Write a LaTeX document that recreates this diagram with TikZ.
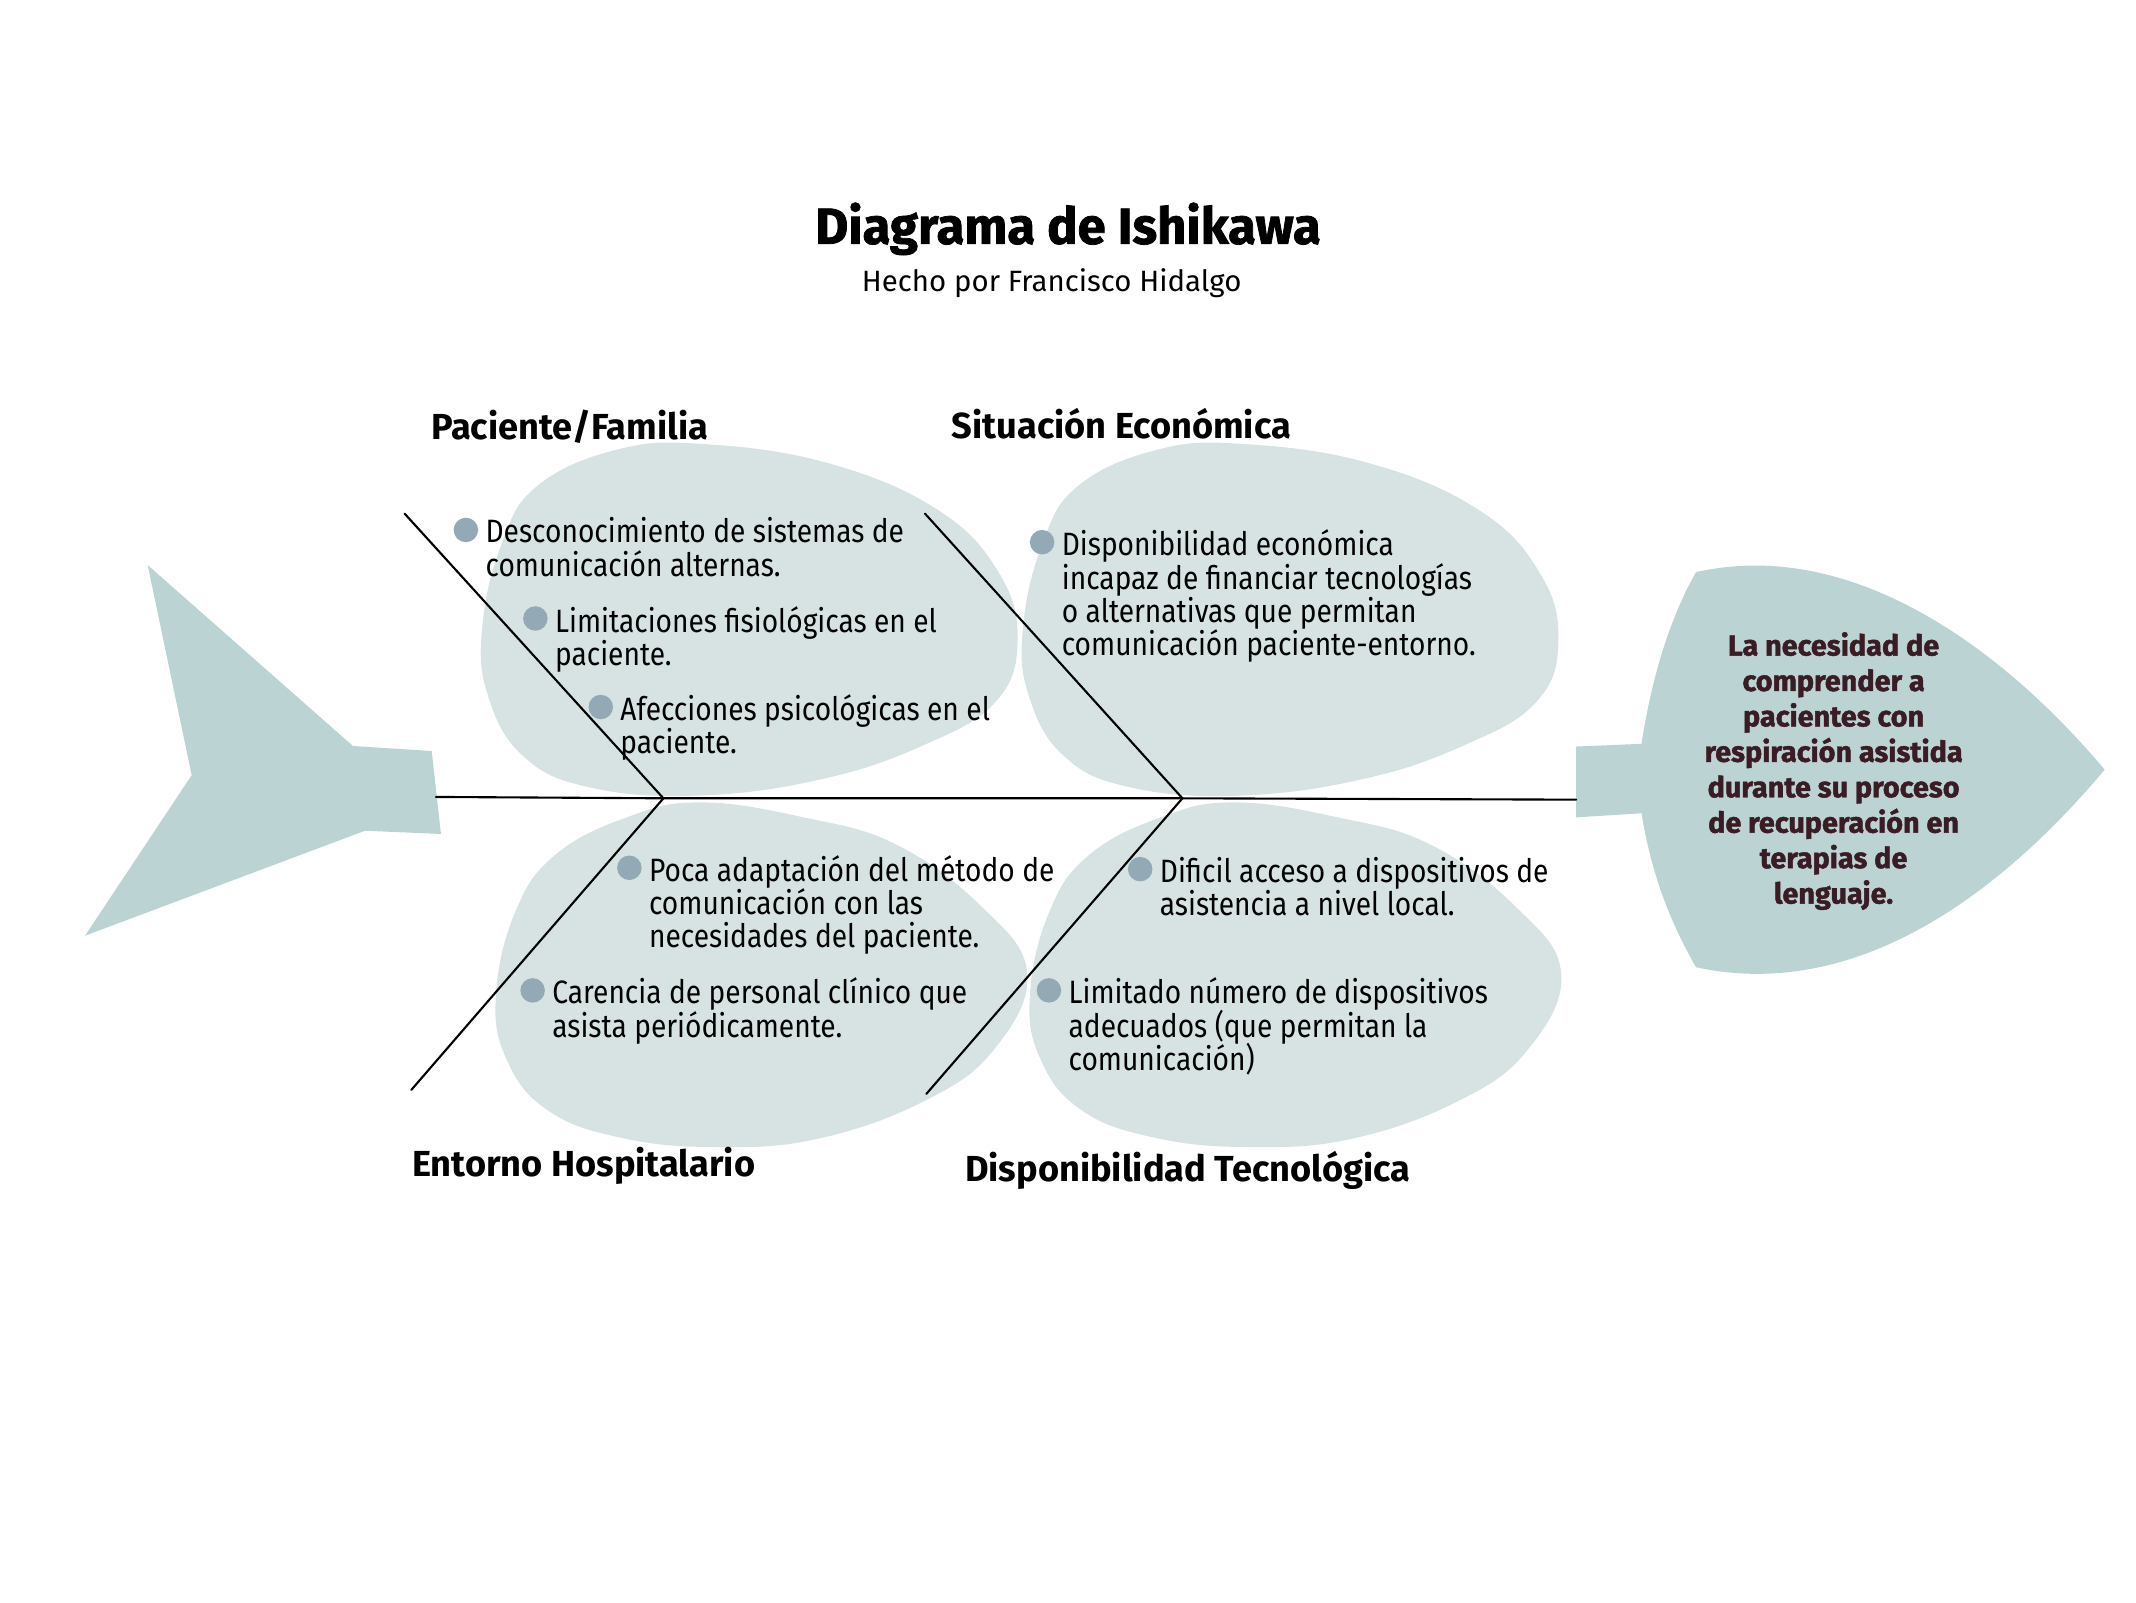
\documentclass[tikz,border=0pt]{standalone}
\usepackage{fontspec}
\setmainfont{Fira Sans}
\newfontfamily\ikbodyfont{Fira Sans}[FakeStretch=0.87]
\newfontfamily\ikheavyfont{Fira Sans}[BoldFeatures={FakeBold=1.5}]
\usetikzlibrary{positioning}
\setlength{\lineskiplimit}{-10pt}

\definecolor{ikFish}{HTML}{BCD3D4}
\definecolor{ikBlob}{HTML}{D7E3E2}
\definecolor{ikBall}{HTML}{93AAB6}
\definecolor{ikHead}{HTML}{3A1C25}

\def\IshikawaBoneLW{0.6pt}
\def\IshikawaBallSize{2.45mm}
\def\IshikawaTextDX{1.9mm}
\def\IshikawaTextDY{1.3mm}
\newcommand{\IshikawaStyles}{%
  \tikzset{
    ikfish/.style={fill=ikFish, draw=none},
    ikblob/.style={fill=ikBlob, draw=none},
    ikbone/.style={line width=\IshikawaBoneLW, line cap=round},
    ikball/.style={circle, fill=ikBall, minimum size=\IshikawaBallSize,
      inner sep=0pt},
    iktext/.style={anchor=north west, align=left, inner sep=0pt,
      font=\ikbodyfont\fontsize{9.2pt}{9.45pt}\selectfont},
    ikcat/.style={anchor=west, inner sep=0pt,
      font=\bfseries\fontsize{10.3pt}{12pt}\selectfont},
    iktitle/.style={inner sep=0pt,
      font=\ikheavyfont\bfseries\fontsize{14.45pt}{17pt}\selectfont},
    iksubtitle/.style={inner sep=0pt,
      font=\fontsize{8.36pt}{10pt}\selectfont},
    ikeffect/.style={align=center, inner sep=0pt, text=ikHead,
      font=\ikheavyfont\bfseries\fontsize{8.2pt}{10.08pt}\selectfont},
  }%
}

\begin{document}
\begin{tikzpicture}[x=0.13622mm, y=-0.13622mm]
    \IshikawaStyles
    \useasboundingbox (0,0) rectangle (1568,1176);

    % blobs behind the bones
    \foreach \dx in {-397,0}
      \fill[ikblob, xshift=\dx*0.13622mm] plot[smooth cycle, tension=0.7] coordinates {
        (1144,470) (1128,515) (1075,547) (1000,572) (910,584) (830,578)
        (781,555) (755,510) (751,460) (765,400) (791,357) (850,330)
        (914,326) (1005,340) (1085,374) (1130,420)};
    \foreach \dx in {0,392}
      \fill[ikblob, xshift=\dx*0.13622mm] plot[smooth cycle, tension=0.7] coordinates {
        (514,589) (590,600) (658,620) (720,665) (754,714) (730,770)
        (679,808) (600,836) (524,842) (455,835) (402,815) (372,778)
        (364,731) (378,670) (407,628) (460,600)};

    % tail and head
    \fill[ikfish] (108.4,414.8) -- (259.1,547.6) -- (316.9,551.3)
      -- (323.7,612.2) -- (268,609.8) -- (62.4,686.9) -- (140.7,569) -- cycle;
    \fill[ikfish] (1157,548) -- (1205,546)
      .. controls (1212,500) and (1225,455) .. (1245,420)
      .. controls (1355,395) and (1465,470) .. (1545,565)
      .. controls (1465,660) and (1360,735) .. (1245,710)
      .. controls (1225,675) and (1212,640) .. (1205,597)
      -- (1157,600) -- cycle;

    % spine and bones
    \coordinate (spineL) at (320,585);
    \coordinate (spineR) at (1157,587);
    \coordinate (jointL) at (487,586);
    \coordinate (jointR) at (868,586);
    \coordinate (boneUL) at (297,377);
    \coordinate (boneLL) at (302,800);
    \coordinate (boneUR) at (679,377);
    \coordinate (boneLR) at (680,803);
    \draw[ikbone] (spineL) -- (jointL) -- (jointR) -- (spineR);
    \draw[ikbone] (boneUL) -- (jointL) -- (boneLL);
    \draw[ikbone] (boneUR) -- (jointR) -- (boneLR);

    % title
    \node[iktitle] (title) at (784,168) {Diagrama de Ishikawa};
    \node[iksubtitle] (subtitle) at (772,208) {Hecho por Francisco Hidalgo};

    % categories
    \node[ikcat] (catPac) at (316,313) {Paciente/Familia};
    \node[ikcat] (catEco) at (698,311) {Situación Económica};
    \node[ikcat] (catHos) at (302,856) {Entorno Hospitalario};
    \node[ikcat] (catTec) at (708,859) {Disponibilidad Tecnológica};

    % causes
    \node[ikball] (bA1) at (342,389) {};
    \node[iktext] (tA1) at ([xshift=\IshikawaTextDX, yshift=\IshikawaTextDY]bA1.center)
      {Desconocimiento de sistemas de\\comunicación alternas.};
    \node[ikball] (bA2) at (393,454) {};
    \node[iktext] (tA2) at ([xshift=\IshikawaTextDX, yshift=\IshikawaTextDY]bA2.center)
      {Limitaciones fisiológicas en el\\paciente.};
    \node[ikball] (bA3) at (441,519) {};
    \node[iktext] (tA3) at ([xshift=\IshikawaTextDX, yshift=\IshikawaTextDY]bA3.center)
      {Afecciones psicológicas en el\\paciente.};
    \node[ikball] (bB1) at (765,398) {};
    \node[iktext] (tB1) at ([xshift=\IshikawaTextDX, yshift=\IshikawaTextDY]bB1.center)
      {Disponibilidad económica\\incapaz de financiar tecnologías\\o alternativas que permitan\\comunicación paciente-entorno.};
    \node[ikball] (bC1) at (462,637) {};
    \node[iktext] (tC1) at ([xshift=\IshikawaTextDX, yshift=\IshikawaTextDY]bC1.center)
      {Poca adaptación del método de\\comunicación con las\\necesidades del paciente.};
    \node[ikball] (bC2) at (391,727) {};
    \node[iktext] (tC2) at ([xshift=\IshikawaTextDX, yshift=\IshikawaTextDY]bC2.center)
      {Carencia de personal clínico que\\asista periódicamente.};
    \node[ikball] (bD1) at (837,638) {};
    \node[iktext] (tD1) at ([xshift=\IshikawaTextDX, yshift=\IshikawaTextDY]bD1.center)
      {Dificil acceso a dispositivos de\\asistencia a nivel local.};
    \node[ikball] (bD2) at (770,727) {};
    \node[iktext] (tD2) at ([xshift=\IshikawaTextDX, yshift=\IshikawaTextDY]bD2.center)
      {Limitado número de dispositivos\\adecuados (que permitan la\\comunicación)};

    % effect in the head
    \node[ikeffect] (effect) at (1346,566)
      {La necesidad de\\comprender a\\pacientes con\\respiración asistida\\durante su proceso\\de recuperación en\\terapias de\\lenguaje.};
\end{tikzpicture}
\end{document}
